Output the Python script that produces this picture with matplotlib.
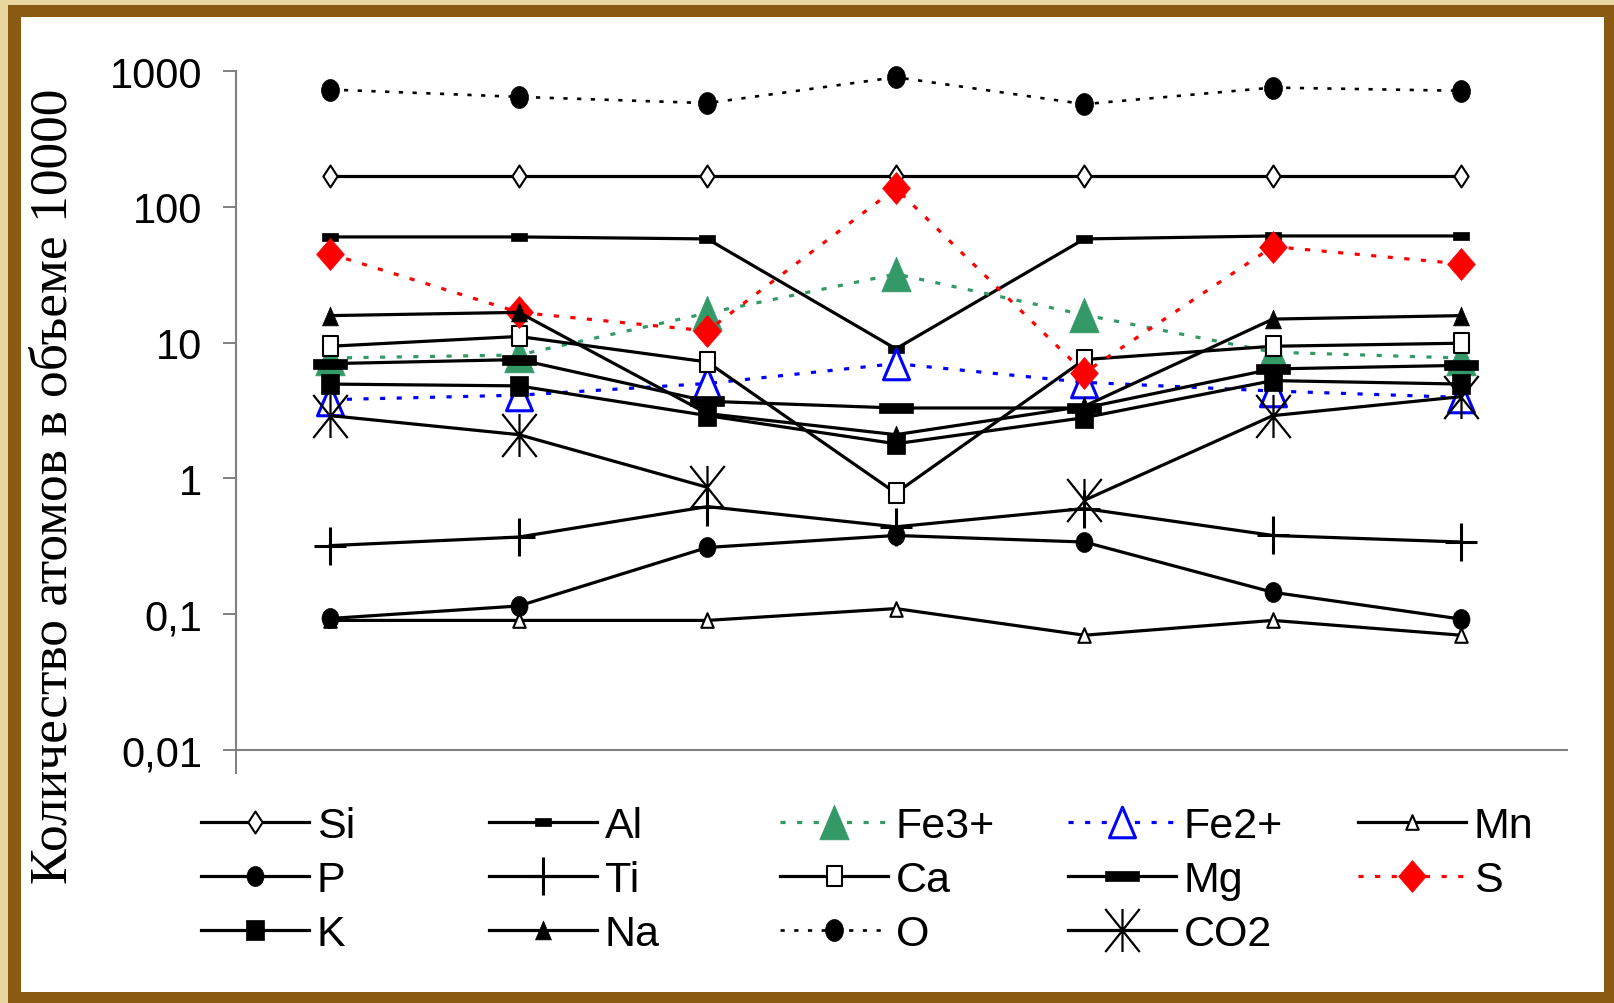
import numpy as np
import matplotlib
matplotlib.use("Agg")
import matplotlib.pyplot as plt
from matplotlib.path import Path
from matplotlib.patches import Rectangle
from matplotlib.ticker import NullLocator
from matplotlib import font_manager

# samples along the x axis (no labels on the original)
samples = [1, 2, 3, 4, 5, 6, 7]

# atoms per 10000 volume
si = [170, 170, 170, 170, 170, 170, 170]
al = [60, 60, 58, 9.0, 58, 61, 61]
fe3 = [7.7, 8.1, 16.5, 32, 16, 8.5, 7.7]
fe2 = [3.8, 4.1, 5.0, 7.0, 5.1, 4.4, 3.95]
mn = [0.09, 0.09, 0.09, 0.11, 0.07, 0.09, 0.07]
p = [0.093, 0.115, 0.31, 0.38, 0.34, 0.145, 0.092]
ti = [0.32, 0.37, 0.62, 0.44, 0.60, 0.38, 0.34]
ca = [9.4, 11.1, 7.2, 0.78, 7.5, 9.4, 9.9]
mg = [7.0, 7.5, 3.7, 3.3, 3.3, 6.4, 6.8]
s = [45, 16.7, 12.2, 137, 6.0, 51, 38]
k = [4.95, 4.8, 2.9, 1.8, 2.8, 5.25, 4.95]
na = [15.8, 16.7, 3.0, 2.1, 3.4, 14.9, 15.8]
o = [730, 645, 580, 900, 570, 755, 715]
co2 = [2.9, 2.1, 0.86, np.nan, 0.69, 2.9, 4.0]

yticks = [1000, 100, 10, 1, 0.1, 0.01]
ytick_labels = ["1000", "100", "10", "1", "0,1", "0,01"]
ylabel = "Количество атомов в объеме 10000"

names = {f.name for f in font_manager.fontManager.ttflist}
narrow = "Liberation Sans Narrow" in names
sans = ["Liberation Sans Narrow", "Liberation Sans", "DejaVu Sans"] if narrow else ["Liberation Sans", "DejaVu Sans"]
tick_fs = 35 if narrow else 30
leg_fs = 36 if narrow else 31


def poly(pts):
    return Path(pts + [pts[0]], closed=True)


M, L = Path.MOVETO, Path.LINETO
circ = Path.unit_circle()
thin_diamond = poly([(0, 1), (0.65, 0), (0, -1), (-0.65, 0)])
small_bar = poly([(-1, -0.5), (1, -0.5), (1, 0.5), (-1, 0.5)])
long_bar = poly([(-1, -0.27), (1, -0.27), (1, 0.27), (-1, 0.27)])
tall_sq = poly([(-0.75, -1), (0.75, -1), (0.75, 1), (-0.75, 1)])
k_sq = poly([(-0.85, -1), (0.85, -1), (0.85, 1), (-0.85, 1)])
ell_p = Path(circ.vertices * [0.85, 1], circ.codes)
ell_o = Path(circ.vertices * [0.82, 1], circ.codes)
big_diamond = poly([(0, 1), (0.87, 0), (0, -1), (-0.87, 0)])
tri = poly([(0, 1), (-0.85, -1), (0.85, -1)])
plus = Path([(0, -1), (0, 1), (-0.84, 0), (0.84, 0)], [M, L, M, L])
star = Path([(0, -1), (0, 1), (-0.8, -1), (0.8, 1), (-0.8, 1), (0.8, -1)], [M, L, M, L, M, L])

green = "#339966"
dots = (0, (1.6, 3.6))
lw = 2.3

fig = plt.figure(figsize=(16.15, 10.04), dpi=100)
fig.patch.set_facecolor("#E9D6A0")
fig.add_artist(Rectangle((8 / 1615, 0), 1, 998 / 1004, transform=fig.transFigure,
                         facecolor="#8A5A12", edgecolor="none", zorder=-10))
fig.add_artist(Rectangle((21 / 1615, 11 / 1004), 1583 / 1615, 975 / 1004, transform=fig.transFigure,
                         facecolor="white", edgecolor="none", zorder=-9))

ax = fig.add_axes([236 / 1615, 253 / 1004, 1331 / 1615, 679 / 1004])
ax.patch.set_alpha(0)
x = np.arange(len(samples))

series = [
    ("Si", si, dict(color="black", ls="-", marker=thin_diamond, ms=15.8, mfc="white", mec="black", mew=1.5)),
    ("Al", al, dict(color="black", ls="-", marker=small_bar, ms=12, mfc="black", mec="black", mew=0.5)),
    ("Fe3+", fe3, dict(color=green, ls=dots, marker=tri, ms=25, mfc=green, mec=green, mew=0.5)),
    ("Fe2+", fe2, dict(color="blue", ls=dots, marker=tri, ms=22, mfc="white", mec="blue", mew=2.2)),
    ("Mn", mn, dict(color="black", ls="-", marker=tri, ms=10.5, mfc="white", mec="black", mew=1.5)),
    ("P", p, dict(color="black", ls="-", marker=ell_p, ms=14.4, mfc="black", mec="black", mew=0.5)),
    ("Ti", ti, dict(color="black", ls="-", marker=plus, ms=27, mfc="none", mec="black", mew=2.2)),
    ("Ca", ca, dict(color="black", ls="-", marker=tall_sq, ms=14.4, mfc="white", mec="black", mew=1.5)),
    ("Mg", mg, dict(color="black", ls="-", marker=long_bar, ms=24, mfc="black", mec="black", mew=0.5)),
    ("S", s, dict(color="red", ls=dots, marker=big_diamond, ms=23, mfc="red", mec="red", mew=0.5)),
    ("K", k, dict(color="black", ls="-", marker=k_sq, ms=15, mfc="black", mec="black", mew=0.5)),
    ("Na", na, dict(color="black", ls="-", marker=tri, ms=13.5, mfc="black", mec="black", mew=0.5)),
    ("O", o, dict(color="black", ls=(0, (1.6, 3.6)), marker=ell_o, ms=15.8, mfc="black", mec="black", mew=0.5)),
    ("CO2", co2, dict(color="black", ls="-", marker=star, ms=31, mfc="none", mec="black", mew=1.6)),
]

handles = {}
for name, vals, st in series:
    ln, = ax.plot(x, vals, lw=lw if name != "O" else 1.9, label=name, clip_on=False, **st)
    handles[name] = ln

ax.set_yscale("log")
ax.set_ylim(0.01, 1000)
ax.set_xlim(-0.5, 6.56)
ax.set_yticks(yticks)
ax.set_yticklabels(ytick_labels, fontfamily=sans, fontsize=tick_fs)
ax.yaxis.set_minor_locator(NullLocator())
ax.set_xticks([-0.5])
ax.set_xticklabels([""])
ax.tick_params(axis="y", direction="out", length=9.4, width=1.4, color="#808080", pad=15)
ax.tick_params(axis="x", direction="out", length=17, width=1.4, color="#808080")
for side in ["top", "right"]:
    ax.spines[side].set_visible(False)
for side in ["left", "bottom"]:
    ax.spines[side].set_color("#808080")
    ax.spines[side].set_linewidth(1.5)

fig.text(54 / 1615, 1 - 486 / 1004, ylabel, rotation=90, ha="center", va="center",
         fontfamily=["Liberation Serif", "DejaVu Serif"], fontsize=38.5)

# legend: five columns, filled row by row like the original
columns = [["Si", "P", "K"], ["Al", "Ti", "Na"], ["Fe3+", "Ca", "O"], ["Fe2+", "Mg", "CO2"], ["Mn", "S"]]
col_x = [201, 489, 780, 1068, 1358]
leg_px = leg_fs / 72 * 100
for cx, col in zip(col_x, columns):
    fig.legend([handles[n] for n in col], col, loc="upper left",
               bbox_to_anchor=(cx / 1615, 1 - 807 / 1004), frameon=False,
               borderpad=0, borderaxespad=0, numpoints=1,
               handlelength=108 / leg_px, handletextpad=8 / leg_px, labelspacing=0.33,
               prop={"family": sans, "size": leg_fs})

fig.savefig("out.png", dpi=100, facecolor=fig.get_facecolor())
